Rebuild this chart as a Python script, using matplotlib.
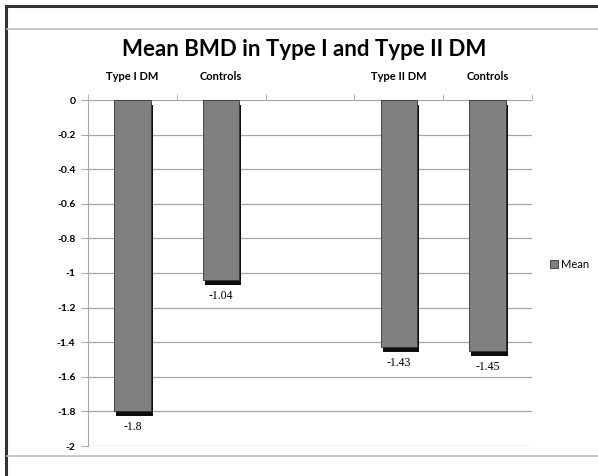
import numpy as np
import matplotlib
matplotlib.use("Agg")
import matplotlib.pyplot as plt
import matplotlib.patheffects as pe
from matplotlib.patches import Patch
from matplotlib.lines import Line2D

# categories along the top, one empty slot between the two groups
groups = ["Type I DM", "Controls", "", "Type II DM", "Controls"]
means = [-1.8, -1.04, np.nan, -1.43, -1.45]
value_labels = ["-1.8", "-1.04", "", "-1.43", "-1.45"]
yticks = [0, -0.2, -0.4, -0.6, -0.8, -1, -1.2, -1.4, -1.6, -1.8, -2]
ytick_labels = ["0", "-0.2", "-0.4", "-0.6", "-0.8", "-1", "-1.2", "-1.4", "-1.6", "-1.8", "-2"]

plt.rcParams['font.family'] = ['Lato', 'DejaVu Sans']

fig = plt.figure(figsize=(5.98, 4.76), dpi=100)
ax = fig.add_axes([88/598, 1-446/476, (532-88)/598, (446-100)/476])

x = np.arange(len(groups))
bars = ax.bar(x, means, width=0.41, color='#808080', edgecolor='#333333', linewidth=0.6,
              zorder=3, label='Mean')
for b in bars:
    b.set_path_effects([pe.SimplePatchShadow(offset=(1.5, -3.5), shadow_rgbFace='black', alpha=0.95),
                        pe.Normal()])

for xi, v, lab in zip(x, means, value_labels):
    if lab:
        ax.annotate(lab, (xi, v), xytext=(0, -7), textcoords='offset points',
                    ha='center', va='top', fontsize=8.5, family='Liberation Serif')

ax.set_xlim(-0.5, len(groups) - 0.5)
ax.set_ylim(-2, 0)
ax.set_yticks(yticks)
ax.set_yticklabels(ytick_labels, fontsize=7.5, fontweight='bold')
ax.yaxis.grid(True, color='#a6a6a6', linewidth=0.9, zorder=0)
ax.tick_params(axis='y', length=5, color='#a6a6a6', pad=4)

ax.xaxis.tick_top()
ax.set_xticks(x)
ax.set_xticklabels(groups, fontsize=8, fontweight='bold')
ax.set_xticks(np.arange(len(groups) + 1) - 0.5, minor=True)
ax.tick_params(axis='x', which='major', length=0, pad=13)
ax.tick_params(axis='x', which='minor', length=4, color='#a6a6a6', top=True, bottom=False)

for s in ['top', 'right', 'bottom']:
    ax.spines[s].set_visible(False)
ax.spines['left'].set_color('#a6a6a6')

fig.text(304/598, 1-50/476, "Mean BMD in Type I and Type II DM", ha='center', va='center',
         fontsize=16, fontweight='bold')

handle = Patch(facecolor='#808080', edgecolor='#333333', linewidth=0.6)
fig.legend([handle], ["Mean"], loc='center left', bbox_to_anchor=(540/598, 1-264/476),
           frameon=False, fontsize=8, handlelength=0.7, handleheight=0.7, handletextpad=0.3)

# outer frame lines of the chart area
fig.add_artist(Line2D([6/598, 1], [1-6/476, 1-6/476], color='#333333', linewidth=2.2))
fig.add_artist(Line2D([6/598, 6/598], [0, 1-6/476], color='#333333', linewidth=2.2))
fig.add_artist(Line2D([7/598, 1], [1-29/476, 1-29/476], color='#bfbfbf', linewidth=1.2))
fig.add_artist(Line2D([7/598, 1], [1-456/476, 1-456/476], color='#bfbfbf', linewidth=1.2))

fig.savefig("out.png", dpi=100)
